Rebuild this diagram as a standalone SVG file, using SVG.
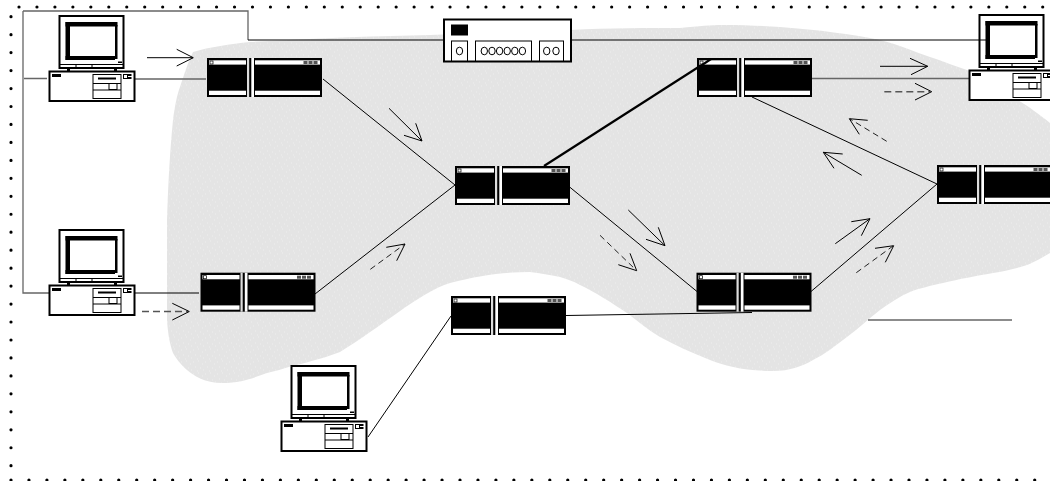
<svg xmlns="http://www.w3.org/2000/svg" width="1050" height="481" viewBox="0 0 1050 481">
<style>
.l{fill:none;stroke:#000;stroke-width:1}
.g{fill:none;stroke:#666;stroke-width:1.3}
.b{fill:none;stroke:#000;stroke-width:2.2}
.d{fill:none;stroke:#222;stroke-width:1;stroke-dasharray:6 4}
.dg{fill:none;stroke:#555;stroke-width:1.5;stroke-dasharray:7 4}
.w{fill:#fff;stroke:#000;stroke-width:2}
.t{fill:#fff;stroke:#000;stroke-width:1}
.k{fill:#000}
.dot{fill:none;stroke:#000;stroke-width:3.2;stroke-linecap:round;stroke-dasharray:0 17.96}
</style>
<defs>
<pattern id="tex" width="12" height="12" patternUnits="userSpaceOnUse">
<rect width="12" height="12" fill="#e4e4e4"/>
<path d="M1 2h1M6 1h1M10 4h1M3 7h1M8 8h1M5 11h1M11 10h1" stroke="#efefef" stroke-width="1"/>
</pattern>
<g id="pc">
<rect class="w" x="10.500" y="2" width="64" height="52"/>
<rect class="k" x="16.500" y="8" width="52" height="4.500"/>
<rect class="k" x="16.500" y="8" width="4.500" height="38"/>
<rect class="k" x="16.500" y="42" width="49.500" height="4"/>
<rect class="k" x="66" y="11" width="2.500" height="34"/>
<rect class="k" x="69" y="47.500" width="4" height="1.500"/>
<path class="l" d="M10.500 50.500H74.500M27 50.500V54M43 50.500V54"/>
<rect class="k" x="18" y="54" width="3" height="3.500"/><rect class="k" x="65" y="54" width="3" height="3.500"/>
<rect class="w" x="0.500" y="57.500" width="85" height="29.500"/>
<rect class="k" x="3" y="60" width="9" height="3"/>
<rect class="t" x="44" y="60.500" width="28" height="24"/>
<rect class="k" x="49" y="63.500" width="18" height="2"/>
<path class="l" d="M44 69.500H72M44 76H72"/>
<rect class="t" x="60" y="69.500" width="8" height="6"/>
<rect class="t" x="74.500" y="60.500" width="4" height="4"/>
<rect class="k" x="79" y="60" width="3.500" height="2"/><rect class="k" x="79" y="63" width="3.500" height="2"/>
</g>
<g id="sw">
<rect x="0" y="0" width="115" height="39" class="k"/>
<rect x="2" y="2.300" width="37" height="4.300" fill="#fff"/>
<rect x="48" y="2.300" width="65" height="4.300" fill="#fff"/>
<rect x="2" y="32.700" width="37" height="4.300" fill="#fff"/>
<rect x="48" y="32.700" width="65" height="4.300" fill="#fff"/>
<rect x="40" y="0" width="2.200" height="39" fill="#ddd"/>
<rect x="44.300" y="0" width="2.700" height="39" fill="#fff"/>
<rect x="3" y="3" width="3" height="3" fill="#fff" stroke="#000" stroke-width="0.700"/>
<rect x="96.500" y="3" width="4" height="3" fill="#555"/><rect x="101.500" y="3" width="4" height="3" fill="#555"/><rect x="106.500" y="3" width="4" height="3" fill="#555"/>
</g>
</defs>
<path d="M193 52C210 47 230 44 250 42C320 38 380 36 430 35C480 33 530 31 570 30C610 28 650 28 680 28C700 26 710 25 723 25C745 25 765 26 780 27C820 30 850 34 880 40C900 45 915 52 930 57C945 62 955 66 967 70C985 78 1000 88 1013 97C1028 106 1040 115 1050 123V253C1040 259 1030 264 1027 265C1015 269 1005 271 993 273C975 276 960 279 943 283C930 286 920 288 910 292C900 296 890 303 880 310C868 319 858 329 847 337C835 346 825 354 813 360C803 366 790 371 773 371C745 371 725 366 710 360C692 353 675 345 660 337C648 330 638 321 627 313C612 303 595 292 580 285C573 281 566 279 560 277C550 275 540 273 530 272C505 272 480 275 450 283C420 292 380 328 340 352C330 356 310 362 292 366C283 369 275 371 267 373C255 377 243 383 222 383C205 383 194 376 187 370C180 364 176 358 173 353C170 345 168 335 167 320C167 290 167 250 167 220C168 185 170 150 173 120C175 105 177 95 180 87C184 75 188 62 193 52Z" fill="url(#tex)"/>
<g id="border">
<path class="dot" d="M19 7H1050"/>
<path class="dot" d="M11 16.700V470"/>
<path class="dot" d="M11 480H1050"/>
</g>
<g id="connectors">
<path class="g" d="M135 79H206M24 78.500H47M23 11V293H49M23 11H248V40M811 78.500H969"/>
<path class="l" d="M248 40H443M572 40H985M323 79L455 185L315 294M135 293H199M569 186.500L697 291.500M811 291.500L937 184M566 315.500L752 312.500M752 97L937 184M368 437L451 316"/>
<path class="b" d="M544 166L711 59"/>
<path class="g" d="M868 320H1012"/>
<path class="l" d="M147 57.700H193M176.700 49.300L193.300 57.700L176.700 66"/>
<path class="l" d="M389 108.300L422 141M415.700 123.300L422 141L404 135.300"/>
<path class="d" d="M370.300 269.300L405 244"/><path class="l" d="M386.300 247.300L405 244L396.700 260.700"/>
<path class="dg" d="M142 311.500H188"/><path class="l" d="M172.300 303.300L189.300 311.500L172.300 320"/>
<path class="l" d="M628.300 210L665 245.700M658.300 227.300L665 245.700L646 239.300"/>
<path class="d" d="M600 235.300L636 270"/><path class="l" d="M630 253.300L636.700 270.700L618.300 264.700"/>
<path class="l" d="M880 66.300H927.700M910 58.300L927.700 66.300L911 74.700"/>
<path class="dg" d="M884.300 91.700H930"/><path class="l" d="M915 83.300L931.700 91.700L915 100"/>
<path class="d" d="M886.700 141.300L850 119"/><path class="l" d="M867.700 120.300L849.300 118.700L859.300 134.300"/>
<path class="l" d="M861.700 175.300L823.300 152.300M842.700 154L823.300 152.300L834 168.300"/>
<path class="l" d="M835.300 243.700L870 218.700M851.300 221.700L870 218.700L861.300 235.700"/>
<path class="d" d="M856.300 272.700L893 246"/><path class="l" d="M875 248.300L893.700 245.700L885.300 262.300"/>
</g>
<g id="pc1"><use href="#pc" x="49" y="14"/></g>
<g id="pc2"><use href="#pc" x="969" y="13"/></g>
<g id="pc3"><use href="#pc" x="49" y="228"/></g>
<g id="pc4"><use href="#pc" x="281" y="364"/></g>
<g id="sw1"><use href="#sw" x="207" y="58"/></g>
<g id="sw2"><use href="#sw" x="200.500" y="272.700"/></g>
<g id="sw3"><use href="#sw" x="455" y="166"/></g>
<g id="sw4"><use href="#sw" x="697" y="58"/></g>
<g id="sw5"><use href="#sw" x="696.500" y="272.700"/></g>
<g id="sw6"><use href="#sw" x="937" y="165"/></g>
<g id="sw7"><use href="#sw" x="451" y="296"/></g>
<path class="b" d="M697 68.300L711 59"/>
<path class="l" d="M979 40H986"/>
<g id="hub">
<rect class="w" x="444" y="19.500" width="127" height="42"/>
<rect class="k" x="451" y="24.500" width="17" height="11"/>
<rect class="t" x="451.500" y="41" width="16" height="20"/>
<rect class="t" x="475.500" y="41" width="56" height="20"/>
<rect class="t" x="539.500" y="41" width="24" height="20"/>
<g fill="none" stroke="#000" stroke-width="1">
<ellipse cx="459.500" cy="51" rx="3.200" ry="3.800"/>
<ellipse cx="484.300" cy="51" rx="3.200" ry="3.800"/><ellipse cx="492" cy="51" rx="3.200" ry="3.800"/><ellipse cx="499.600" cy="51" rx="3.200" ry="3.800"/><ellipse cx="507.200" cy="51" rx="3.200" ry="3.800"/><ellipse cx="514.800" cy="51" rx="3.200" ry="3.800"/><ellipse cx="522.400" cy="51" rx="3.200" ry="3.800"/>
<ellipse cx="546.700" cy="51" rx="3.200" ry="3.800"/><ellipse cx="556" cy="51" rx="3.200" ry="3.800"/>
</g>
</g>
</svg>
